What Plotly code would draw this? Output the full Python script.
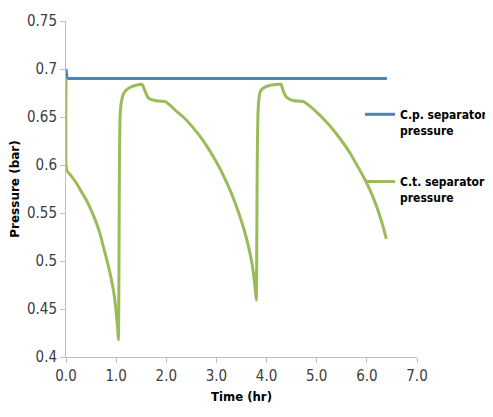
import plotly.graph_objects as go

# Data
cp_time = [0.0, 0.02, 6.40]
cp_pressure = [0.700, 0.690, 0.690]

ct_time = [0.0, 0.0, 0.02, 0.10, 0.21, 0.31, 0.41, 0.51, 0.61, 0.68, 0.745, 0.81, 0.88, 0.93, 0.965, 1.00, 1.03, 1.045,
           1.055, 1.065, 1.075, 1.09, 1.12, 1.145, 1.20, 1.28, 1.40, 1.51, 1.53, 1.56, 1.60, 1.64, 1.70, 1.80, 1.98,
           2.08, 2.20, 2.34, 2.50, 2.67, 2.84, 3.01, 3.14, 3.27, 3.37, 3.47, 3.56, 3.64, 3.70, 3.74, 3.77, 3.795,
           3.805, 3.815, 3.83, 3.85, 3.87, 3.93, 4.07, 4.29, 4.31, 4.34, 4.39, 4.44, 4.55, 4.74,
           4.87, 5.00, 5.17, 5.34, 5.50, 5.67, 5.80, 5.93, 6.07, 6.20, 6.30, 6.39]
ct_pressure = [0.690, 0.600, 0.594, 0.589, 0.581, 0.572, 0.563, 0.552, 0.539, 0.528, 0.515, 0.502, 0.487, 0.474, 0.463, 0.447, 0.430, 0.418,
               0.480, 0.600, 0.645, 0.660, 0.670, 0.674, 0.678, 0.681, 0.683, 0.684, 0.683, 0.679, 0.674, 0.670, 0.668, 0.667, 0.666,
               0.662, 0.656, 0.650, 0.641, 0.630, 0.617, 0.602, 0.589, 0.574, 0.561, 0.546, 0.531, 0.515, 0.500, 0.487, 0.472, 0.459,
               0.520, 0.610, 0.655, 0.670, 0.676, 0.680, 0.683, 0.684, 0.681, 0.676, 0.671, 0.669, 0.667, 0.666,
               0.661, 0.655, 0.646, 0.636, 0.625, 0.612, 0.600, 0.588, 0.573, 0.556, 0.540, 0.523]

x_ticks = [0, 1, 2, 3, 4, 5, 6, 7]
x_labels = ["0.0", "1.0", "2.0", "3.0", "4.0", "5.0", "6.0", "7.0"]
y_ticks = [0.4, 0.45, 0.5, 0.55, 0.6, 0.65, 0.7, 0.75]
y_labels = ["0.4", "0.45", "0.5", "0.55", "0.6", "0.65", "0.7", "0.75"]

FONT = "DejaVu Sans Condensed, Roboto, sans-serif"

# The page body adds an 8px offset; figure size/margins compensate for it.
W, H = 485, 409

fig = go.Figure()
fig.add_trace(go.Scatter(x=cp_time, y=cp_pressure, mode="lines", legendgroup="cp",
                         name="<b>C.p. separator</b><br><b>pressure</b>",
                         line=dict(color="#4F81BD", width=3)))
fig.add_trace(go.Scatter(x=ct_time, y=ct_pressure, mode="lines", legendgroup="ct",
                         name="<b>C.t. separator</b><br><b>pressure</b>",
                         line=dict(color="#9BBB59", width=3, shape="spline", smoothing=0.5)))

fig.update_layout(
    width=W, height=H,
    margin=dict(l=58, r=76, t=13, b=60, autoexpand=False),
    paper_bgcolor="white", plot_bgcolor="white",
    font=dict(family=FONT, size=15, color="#404040"),
    showlegend=True,
    legend=dict(x=1.0, y=1 - 92 / H, xref="container", yref="container",
                xanchor="right", yanchor="top", valign="top", traceorder="grouped",
                bgcolor="rgba(0,0,0,0)", font=dict(family=FONT, size=12, color="#000000"),
                tracegroupgap=33, itemwidth=30),
    xaxis=dict(range=[0, 7], tickvals=x_ticks, ticktext=x_labels, automargin=False,
               showgrid=False, zeroline=False, showline=True, linecolor="#BFBFBF", linewidth=1,
               ticks="outside", ticklen=5, tickcolor="#BFBFBF",
               title=dict(text="<b>Time (hr)</b>", font=dict(family=FONT, size=13, color="#000000"), standoff=7),
               tickfont=dict(family=FONT, size=15, color="#404040")),
    yaxis=dict(range=[0.4, 0.75], tickvals=y_ticks, ticktext=y_labels, automargin=False,
               showgrid=False, zeroline=False, showline=True, linecolor="#BFBFBF", linewidth=1,
               ticks="outside", ticklen=5, tickcolor="#BFBFBF",
               title=dict(text="<b>Pressure (bar)</b>", font=dict(family="DejaVu Sans, sans-serif", size=12, color="#000000"), standoff=6),
               tickfont=dict(family=FONT, size=15, color="#404040")),
)

fig.write_html("out.html")
